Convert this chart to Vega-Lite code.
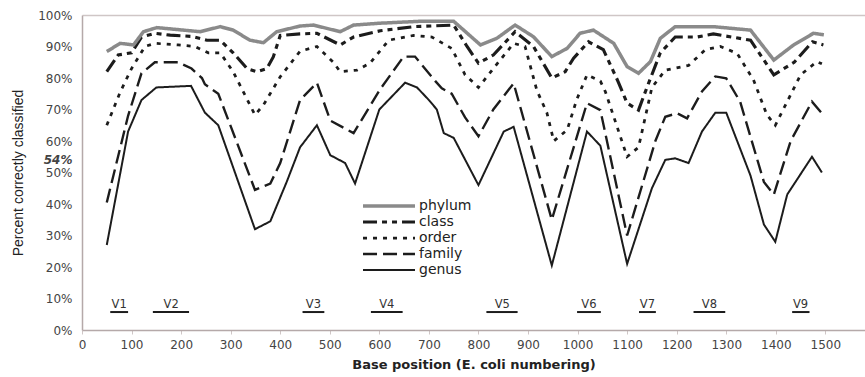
{
  "$schema": "https://vega.github.io/schema/vega-lite/v6.json",
  "autosize": {"type": "none"},
  "padding": {"left": 82, "top": 15, "right": 0, "bottom": 47},
  "width": 783,
  "height": 315,
  "background": "white",
  "config": {
    "view": {"stroke": null},
    "font": "DejaVu Sans",
    "axis": {"labelFont": "DejaVu Sans", "titleFont": "DejaVu Sans", "labelOverlap": false, "labelFlush": false},
    "legend": {"labelFont": "DejaVu Sans"}
  },
  "datasets": {
    "series": [
      {"taxon": "genus", "pos": 50, "pct": 27}, {"taxon": "genus", "pos": 93, "pct": 63}, {"taxon": "genus", "pos": 120, "pct": 73}, {"taxon": "genus", "pos": 150, "pct": 77}, {"taxon": "genus", "pos": 220, "pct": 77.5}, {"taxon": "genus", "pos": 248, "pct": 69}, {"taxon": "genus", "pos": 275, "pct": 65}, {"taxon": "genus", "pos": 349, "pct": 32}, {"taxon": "genus", "pos": 380, "pct": 34.5}, {"taxon": "genus", "pos": 413, "pct": 47}, {"taxon": "genus", "pos": 440, "pct": 58}, {"taxon": "genus", "pos": 474, "pct": 65}, {"taxon": "genus", "pos": 501, "pct": 55.5}, {"taxon": "genus", "pos": 531, "pct": 53}, {"taxon": "genus", "pos": 551, "pct": 46.5}, {"taxon": "genus", "pos": 600, "pct": 70}, {"taxon": "genus", "pos": 652, "pct": 78.5}, {"taxon": "genus", "pos": 676, "pct": 77}, {"taxon": "genus", "pos": 700, "pct": 73}, {"taxon": "genus", "pos": 716, "pct": 70}, {"taxon": "genus", "pos": 730, "pct": 62.5}, {"taxon": "genus", "pos": 750, "pct": 61}, {"taxon": "genus", "pos": 800, "pct": 46}, {"taxon": "genus", "pos": 851, "pct": 63}, {"taxon": "genus", "pos": 871, "pct": 64.5}, {"taxon": "genus", "pos": 948, "pct": 20.5}, {"taxon": "genus", "pos": 1019, "pct": 63}, {"taxon": "genus", "pos": 1046, "pct": 58.5}, {"taxon": "genus", "pos": 1100, "pct": 21}, {"taxon": "genus", "pos": 1150, "pct": 45}, {"taxon": "genus", "pos": 1177, "pct": 54}, {"taxon": "genus", "pos": 1197, "pct": 54.5}, {"taxon": "genus", "pos": 1224, "pct": 53}, {"taxon": "genus", "pos": 1251, "pct": 63}, {"taxon": "genus", "pos": 1278, "pct": 69}, {"taxon": "genus", "pos": 1300, "pct": 69}, {"taxon": "genus", "pos": 1349, "pct": 49}, {"taxon": "genus", "pos": 1376, "pct": 33.5}, {"taxon": "genus", "pos": 1399, "pct": 28}, {"taxon": "genus", "pos": 1423, "pct": 43}, {"taxon": "genus", "pos": 1473, "pct": 55}, {"taxon": "genus", "pos": 1493, "pct": 50},

      {"taxon": "family", "pos": 50, "pct": 40.5}, {"taxon": "family", "pos": 93, "pct": 68}, {"taxon": "family", "pos": 120, "pct": 81.5}, {"taxon": "family", "pos": 147, "pct": 85}, {"taxon": "family", "pos": 194, "pct": 85}, {"taxon": "family", "pos": 221, "pct": 83}, {"taxon": "family", "pos": 242, "pct": 80}, {"taxon": "family", "pos": 248, "pct": 78}, {"taxon": "family", "pos": 275, "pct": 75}, {"taxon": "family", "pos": 349, "pct": 44.5}, {"taxon": "family", "pos": 380, "pct": 46.5}, {"taxon": "family", "pos": 400, "pct": 53}, {"taxon": "family", "pos": 440, "pct": 73}, {"taxon": "family", "pos": 474, "pct": 78.5}, {"taxon": "family", "pos": 501, "pct": 66.5}, {"taxon": "family", "pos": 548, "pct": 62.5}, {"taxon": "family", "pos": 602, "pct": 76.5}, {"taxon": "family", "pos": 649, "pct": 86.8}, {"taxon": "family", "pos": 672, "pct": 86.8}, {"taxon": "family", "pos": 713, "pct": 79}, {"taxon": "family", "pos": 726, "pct": 76.7}, {"taxon": "family", "pos": 746, "pct": 75}, {"taxon": "family", "pos": 773, "pct": 67.5}, {"taxon": "family", "pos": 800, "pct": 61.5}, {"taxon": "family", "pos": 830, "pct": 70}, {"taxon": "family", "pos": 871, "pct": 78.3}, {"taxon": "family", "pos": 948, "pct": 35}, {"taxon": "family", "pos": 1019, "pct": 72}, {"taxon": "family", "pos": 1046, "pct": 69.8}, {"taxon": "family", "pos": 1100, "pct": 30}, {"taxon": "family", "pos": 1157, "pct": 60}, {"taxon": "family", "pos": 1177, "pct": 67.7}, {"taxon": "family", "pos": 1201, "pct": 68.8}, {"taxon": "family", "pos": 1221, "pct": 67.2}, {"taxon": "family", "pos": 1251, "pct": 75.7}, {"taxon": "family", "pos": 1278, "pct": 80.5}, {"taxon": "family", "pos": 1300, "pct": 79.9}, {"taxon": "family", "pos": 1328, "pct": 72.5}, {"taxon": "family", "pos": 1376, "pct": 47}, {"taxon": "family", "pos": 1396, "pct": 43}, {"taxon": "family", "pos": 1430, "pct": 60}, {"taxon": "family", "pos": 1473, "pct": 72.5}, {"taxon": "family", "pos": 1493, "pct": 68.8},

      {"taxon": "order", "pos": 50, "pct": 65}, {"taxon": "order", "pos": 77, "pct": 75.5}, {"taxon": "order", "pos": 100, "pct": 83}, {"taxon": "order", "pos": 127, "pct": 90}, {"taxon": "order", "pos": 147, "pct": 91}, {"taxon": "order", "pos": 194, "pct": 90.5}, {"taxon": "order", "pos": 228, "pct": 90}, {"taxon": "order", "pos": 255, "pct": 88}, {"taxon": "order", "pos": 279, "pct": 88}, {"taxon": "order", "pos": 305, "pct": 82}, {"taxon": "order", "pos": 349, "pct": 68.3}, {"taxon": "order", "pos": 366, "pct": 71.4}, {"taxon": "order", "pos": 400, "pct": 80.4}, {"taxon": "order", "pos": 440, "pct": 88.5}, {"taxon": "order", "pos": 474, "pct": 90}, {"taxon": "order", "pos": 507, "pct": 85}, {"taxon": "order", "pos": 521, "pct": 82}, {"taxon": "order", "pos": 555, "pct": 82.5}, {"taxon": "order", "pos": 581, "pct": 84.7}, {"taxon": "order", "pos": 619, "pct": 92}, {"taxon": "order", "pos": 669, "pct": 93.5}, {"taxon": "order", "pos": 706, "pct": 93}, {"taxon": "order", "pos": 746, "pct": 89.4}, {"taxon": "order", "pos": 773, "pct": 81}, {"taxon": "order", "pos": 800, "pct": 77}, {"taxon": "order", "pos": 830, "pct": 83}, {"taxon": "order", "pos": 871, "pct": 91}, {"taxon": "order", "pos": 894, "pct": 90}, {"taxon": "order", "pos": 918, "pct": 76}, {"taxon": "order", "pos": 938, "pct": 69}, {"taxon": "order", "pos": 952, "pct": 60}, {"taxon": "order", "pos": 979, "pct": 63.5}, {"taxon": "order", "pos": 998, "pct": 73}, {"taxon": "order", "pos": 1019, "pct": 81}, {"taxon": "order", "pos": 1046, "pct": 79}, {"taxon": "order", "pos": 1056, "pct": 75.7}, {"taxon": "order", "pos": 1100, "pct": 55}, {"taxon": "order", "pos": 1123, "pct": 58}, {"taxon": "order", "pos": 1150, "pct": 77}, {"taxon": "order", "pos": 1177, "pct": 82.5}, {"taxon": "order", "pos": 1224, "pct": 84}, {"taxon": "order", "pos": 1258, "pct": 89}, {"taxon": "order", "pos": 1288, "pct": 90}, {"taxon": "order", "pos": 1322, "pct": 87.8}, {"taxon": "order", "pos": 1355, "pct": 79.4}, {"taxon": "order", "pos": 1382, "pct": 68.3}, {"taxon": "order", "pos": 1399, "pct": 65}, {"taxon": "order", "pos": 1423, "pct": 72.5}, {"taxon": "order", "pos": 1450, "pct": 81}, {"taxon": "order", "pos": 1483, "pct": 85.2}, {"taxon": "order", "pos": 1493, "pct": 84.5},

      {"taxon": "class", "pos": 50, "pct": 82}, {"taxon": "class", "pos": 73, "pct": 87.3}, {"taxon": "class", "pos": 100, "pct": 88}, {"taxon": "class", "pos": 120, "pct": 93}, {"taxon": "class", "pos": 147, "pct": 94.2}, {"taxon": "class", "pos": 178, "pct": 93.6}, {"taxon": "class", "pos": 221, "pct": 93.2}, {"taxon": "class", "pos": 252, "pct": 92}, {"taxon": "class", "pos": 279, "pct": 92}, {"taxon": "class", "pos": 305, "pct": 88}, {"taxon": "class", "pos": 333, "pct": 83}, {"taxon": "class", "pos": 353, "pct": 82}, {"taxon": "class", "pos": 373, "pct": 83}, {"taxon": "class", "pos": 386, "pct": 86.7}, {"taxon": "class", "pos": 400, "pct": 93.5}, {"taxon": "class", "pos": 440, "pct": 94}, {"taxon": "class", "pos": 474, "pct": 94.2}, {"taxon": "class", "pos": 521, "pct": 90.5}, {"taxon": "class", "pos": 548, "pct": 93}, {"taxon": "class", "pos": 602, "pct": 95}, {"taxon": "class", "pos": 669, "pct": 96.3}, {"taxon": "class", "pos": 750, "pct": 96.8}, {"taxon": "class", "pos": 777, "pct": 90}, {"taxon": "class", "pos": 800, "pct": 84.7}, {"taxon": "class", "pos": 830, "pct": 87.3}, {"taxon": "class", "pos": 874, "pct": 94.7}, {"taxon": "class", "pos": 911, "pct": 90}, {"taxon": "class", "pos": 948, "pct": 80}, {"taxon": "class", "pos": 975, "pct": 82}, {"taxon": "class", "pos": 992, "pct": 86.3}, {"taxon": "class", "pos": 1022, "pct": 91.5}, {"taxon": "class", "pos": 1052, "pct": 89}, {"taxon": "class", "pos": 1082, "pct": 78.8}, {"taxon": "class", "pos": 1100, "pct": 72}, {"taxon": "class", "pos": 1123, "pct": 69.8}, {"taxon": "class", "pos": 1140, "pct": 77}, {"taxon": "class", "pos": 1167, "pct": 88}, {"taxon": "class", "pos": 1197, "pct": 93}, {"taxon": "class", "pos": 1241, "pct": 93}, {"taxon": "class", "pos": 1274, "pct": 94}, {"taxon": "class", "pos": 1349, "pct": 92}, {"taxon": "class", "pos": 1396, "pct": 81}, {"taxon": "class", "pos": 1437, "pct": 85}, {"taxon": "class", "pos": 1474, "pct": 91.5}, {"taxon": "class", "pos": 1496, "pct": 90.5},

      {"taxon": "phylum", "pos": 50, "pct": 88.4}, {"taxon": "phylum", "pos": 77, "pct": 91}, {"taxon": "phylum", "pos": 104, "pct": 90.5}, {"taxon": "phylum", "pos": 124, "pct": 94.7}, {"taxon": "phylum", "pos": 151, "pct": 96}, {"taxon": "phylum", "pos": 238, "pct": 94.7}, {"taxon": "phylum", "pos": 279, "pct": 96.3}, {"taxon": "phylum", "pos": 305, "pct": 95.2}, {"taxon": "phylum", "pos": 339, "pct": 92}, {"taxon": "phylum", "pos": 366, "pct": 91.2}, {"taxon": "phylum", "pos": 393, "pct": 94.7}, {"taxon": "phylum", "pos": 440, "pct": 96.5}, {"taxon": "phylum", "pos": 467, "pct": 96.8}, {"taxon": "phylum", "pos": 521, "pct": 94.7}, {"taxon": "phylum", "pos": 548, "pct": 96.8}, {"taxon": "phylum", "pos": 602, "pct": 97.4}, {"taxon": "phylum", "pos": 682, "pct": 98}, {"taxon": "phylum", "pos": 750, "pct": 98}, {"taxon": "phylum", "pos": 804, "pct": 90.5}, {"taxon": "phylum", "pos": 837, "pct": 92.6}, {"taxon": "phylum", "pos": 874, "pct": 96.8}, {"taxon": "phylum", "pos": 911, "pct": 93.1}, {"taxon": "phylum", "pos": 948, "pct": 86.8}, {"taxon": "phylum", "pos": 979, "pct": 89.4}, {"taxon": "phylum", "pos": 1005, "pct": 94.2}, {"taxon": "phylum", "pos": 1032, "pct": 95.2}, {"taxon": "phylum", "pos": 1073, "pct": 91}, {"taxon": "phylum", "pos": 1100, "pct": 83.6}, {"taxon": "phylum", "pos": 1123, "pct": 81.5}, {"taxon": "phylum", "pos": 1147, "pct": 85.2}, {"taxon": "phylum", "pos": 1167, "pct": 92.6}, {"taxon": "phylum", "pos": 1197, "pct": 96.3}, {"taxon": "phylum", "pos": 1274, "pct": 96.3}, {"taxon": "phylum", "pos": 1349, "pct": 95.2}, {"taxon": "phylum", "pos": 1396, "pct": 85.7}, {"taxon": "phylum", "pos": 1436, "pct": 90.5}, {"taxon": "phylum", "pos": 1476, "pct": 94.2}, {"taxon": "phylum", "pos": 1497, "pct": 93.7}
    ],
    "regions": [
      {"region": "V1", "start": 57, "end": 93, "center": 75, "level": 5.7},
      {"region": "V2", "start": 143, "end": 216, "center": 180, "level": 5.7},
      {"region": "V3", "start": 445, "end": 489, "center": 467, "level": 5.7},
      {"region": "V4", "start": 583, "end": 647, "center": 615, "level": 5.7},
      {"region": "V5", "start": 816, "end": 879, "center": 848, "level": 5.7},
      {"region": "V6", "start": 999, "end": 1047, "center": 1023, "level": 5.7},
      {"region": "V7", "start": 1124, "end": 1158, "center": 1141, "level": 5.7},
      {"region": "V8", "start": 1234, "end": 1298, "center": 1266, "level": 5.7},
      {"region": "V9", "start": 1433, "end": 1468, "center": 1450, "level": 5.7}
    ]
  },
  "layer": [
    {
      "data": {"name": "series"},
      "mark": {"type": "line", "strokeCap": "butt", "strokeJoin": "miter"},
      "encoding": {
        "x": {
          "field": "pos", "type": "quantitative",
          "scale": {"domain": [0, 1580], "nice": false, "zero": true},
          "axis": {
            "values": [0, 100, 200, 300, 400, 500, 600, 700, 800, 900, 1000, 1100, 1200, 1300, 1400, 1500],
            "format": "d",
            "title": "Base position (E. coli numbering)",
            "titleFontSize": 13, "titleFontWeight": "bold", "titleColor": "#222", "titlePadding": 8,
            "labelFontSize": 12, "labelColor": "#444", "labelPadding": 5,
            "domainColor": "#b5a9a9", "domainWidth": 1.5,
            "tickColor": "#cfc6c6", "tickSize": 4, "grid": false
          }
        },
        "y": {
          "field": "pct", "type": "quantitative",
          "scale": {"domain": [0, 100], "nice": false},
          "axis": {
            "values": [0, 10, 20, 30, 40, 50, 54, 60, 70, 80, 90, 100],
            "labelExpr": "datum.value + '%'",
            "labelFontSize": 12, "labelColor": "#444", "labelPadding": 10,
            "labelFontWeight": {"condition": {"test": "datum.value == 54", "value": "bold"}, "value": "normal"},
            "labelFontStyle": {"condition": {"test": "datum.value == 54", "value": "italic"}, "value": "normal"},
            "ticks": false,
            "domainColor": "#b5a9a9", "domainWidth": 1.5,
            "grid": true, "gridColor": "#cfc6c6", "gridWidth": 1.5,
            "gridOpacity": {"condition": {"test": "datum.value == 100", "value": 1}, "value": 0},
            "title": "Percent correctly classified",
            "titleFont": "Liberation Sans",
            "titleFontSize": 14, "titleFontWeight": "normal", "titleColor": "#222", "titlePadding": 12
          }
        },
        "color": {
          "field": "taxon", "type": "nominal",
          "scale": {"domain": ["phylum", "class", "order", "family", "genus"], "range": ["#8a8a8a", "#1c1c1c", "#1c1c1c", "#1c1c1c", "#1c1c1c"]},
          "legend": {
            "orient": "none", "legendX": 300, "legendY": 184, "title": null,
            "symbolType": "M-10,0H10", "symbolSize": 27, "labelFontSize": 14, "labelColor": "#222",
            "rowPadding": 2, "labelOffset": 23, "symbolStrokeWidth": 2
          }
        },
        "strokeDash": {
          "field": "taxon", "type": "nominal",
          "scale": {"domain": ["phylum", "class", "order", "family", "genus"], "range": [[1, 0], [14, 5, 5, 5, 5, 5], [4, 6], [14, 6], [1, 0]]},
          "legend": {
            "orient": "none", "legendX": 300, "legendY": 184, "title": null,
            "symbolType": "M-10,0H10", "symbolSize": 27, "labelFontSize": 14, "labelColor": "#222",
            "rowPadding": 2, "labelOffset": 23, "symbolStrokeWidth": 2
          }
        },
        "strokeWidth": {
          "field": "taxon", "type": "nominal",
          "scale": {"domain": ["phylum", "class", "order", "family", "genus"], "range": [3.5, 2, 2.2, 2, 2]},
          "legend": null
        },
        "order": {"field": "pos", "type": "quantitative"}
      }
    },
    {
      "data": {"name": "regions"},
      "mark": {"type": "rule", "color": "#1c1c1c", "strokeWidth": 2},
      "encoding": {
        "x": {
          "field": "start", "type": "quantitative",
          "scale": {"domain": [0, 1580], "nice": false, "zero": true},
          "axis": {
            "values": [0, 100, 200, 300, 400, 500, 600, 700, 800, 900, 1000, 1100, 1200, 1300, 1400, 1500],
            "format": "d",
            "title": "Base position (E. coli numbering)",
            "titleFontSize": 13, "titleFontWeight": "bold", "titleColor": "#222", "titlePadding": 8,
            "labelFontSize": 12, "labelColor": "#444", "labelPadding": 5,
            "domainColor": "#b5a9a9", "domainWidth": 1.5,
            "tickColor": "#cfc6c6", "tickSize": 4, "grid": false
          }
        },
        "x2": {"field": "end"},
        "y": {
          "field": "level", "type": "quantitative",
          "scale": {"domain": [0, 100], "nice": false},
          "axis": {
            "values": [0, 10, 20, 30, 40, 50, 54, 60, 70, 80, 90, 100],
            "labelExpr": "datum.value + '%'",
            "labelFontSize": 12, "labelColor": "#444", "labelPadding": 10,
            "labelFontWeight": {"condition": {"test": "datum.value == 54", "value": "bold"}, "value": "normal"},
            "labelFontStyle": {"condition": {"test": "datum.value == 54", "value": "italic"}, "value": "normal"},
            "ticks": false,
            "domainColor": "#b5a9a9", "domainWidth": 1.5,
            "grid": true, "gridColor": "#cfc6c6", "gridWidth": 1.5,
            "gridOpacity": {"condition": {"test": "datum.value == 100", "value": 1}, "value": 0},
            "title": "Percent correctly classified",
            "titleFont": "Liberation Sans",
            "titleFontSize": 14, "titleFontWeight": "normal", "titleColor": "#222", "titlePadding": 12
          }
        }
      }
    },
    {
      "data": {"name": "regions"},
      "mark": {"type": "text", "baseline": "bottom", "fontSize": 11.5, "color": "#333", "dy": -2},
      "encoding": {
        "x": {
          "field": "center", "type": "quantitative",
          "scale": {"domain": [0, 1580], "nice": false, "zero": true},
          "axis": {
            "values": [0, 100, 200, 300, 400, 500, 600, 700, 800, 900, 1000, 1100, 1200, 1300, 1400, 1500],
            "format": "d",
            "title": "Base position (E. coli numbering)",
            "titleFontSize": 13, "titleFontWeight": "bold", "titleColor": "#222", "titlePadding": 8,
            "labelFontSize": 12, "labelColor": "#444", "labelPadding": 5,
            "domainColor": "#b5a9a9", "domainWidth": 1.5,
            "tickColor": "#cfc6c6", "tickSize": 4, "grid": false
          }
        },
        "y": {
          "field": "level", "type": "quantitative",
          "scale": {"domain": [0, 100], "nice": false},
          "axis": {
            "values": [0, 10, 20, 30, 40, 50, 54, 60, 70, 80, 90, 100],
            "labelExpr": "datum.value + '%'",
            "labelFontSize": 12, "labelColor": "#444", "labelPadding": 10,
            "labelFontWeight": {"condition": {"test": "datum.value == 54", "value": "bold"}, "value": "normal"},
            "labelFontStyle": {"condition": {"test": "datum.value == 54", "value": "italic"}, "value": "normal"},
            "ticks": false,
            "domainColor": "#b5a9a9", "domainWidth": 1.5,
            "grid": true, "gridColor": "#cfc6c6", "gridWidth": 1.5,
            "gridOpacity": {"condition": {"test": "datum.value == 100", "value": 1}, "value": 0},
            "title": "Percent correctly classified",
            "titleFont": "Liberation Sans",
            "titleFontSize": 14, "titleFontWeight": "normal", "titleColor": "#222", "titlePadding": 12
          }
        },
        "text": {"field": "region"}
      }
    }
  ]
}
